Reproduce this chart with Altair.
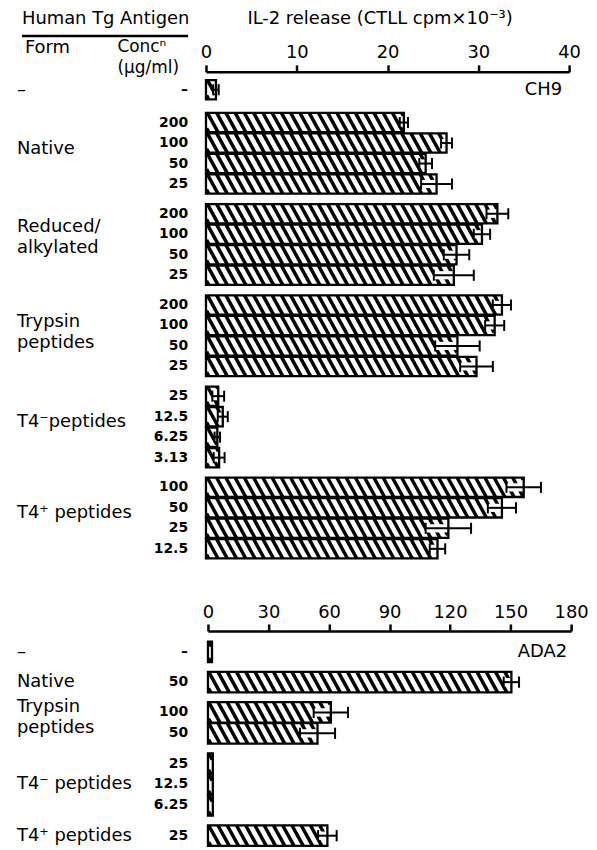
import altair as alt
import pandas as pd

# ---------------- data ----------------
# Panel 1: CH9, IL-2 release (CTLL cpm x 10^-3)
top_form_lines = [["–"], ["Native"], ["Reduced/", "alkylated"], ["Trypsin", "peptides"],
                  ["T4⁻peptides"], ["T4⁺  peptides"]]
top_concs = [["–"], ["200", "100", "50", "25"], ["200", "100", "50", "25"],
             ["200", "100", "50", "25"], ["25", "12.5", "6.25", "3.13"],
             ["100", "50", "25", "12.5"]]
top_values = [[1.1], [21.8, 26.5, 24.2, 25.4], [32.1, 30.4, 27.6, 27.3],
              [32.6, 31.8, 27.7, 29.8], [1.35, 1.85, 1.25, 1.45],
              [35.0, 32.6, 26.7, 25.5]]
top_errors = [[0.3], [0.45, 0.6, 0.7, 1.7], [1.2, 0.9, 1.4, 2.2],
              [1.0, 1.05, 2.45, 1.8], [0.65, 0.55, 0.3, 0.6],
              [1.9, 1.55, 2.5, 0.85]]
top_ticks = [0, 10, 20, 30, 40]

# Panel 2: ADA2
bot_form_lines = [["–"], ["Native"], ["Trypsin", "peptides"], ["T4⁻  peptides"], ["T4⁺  peptides"]]
bot_concs = [["–"], ["50"], ["100", "50"], ["25", "12.5", "6.25"], ["25"]]
bot_values = [[2.0], [150.4], [60.9, 54.3], [2.4, 2.4, 2.4], [59.2]]
bot_errors = [[0.0], [3.8], [8.5, 8.7], [0.0, 0.0, 0.0], [4.6]]
bot_ticks = [0, 30, 60, 90, 120, 150, 180]

# ---------------- layout / style ----------------
FONT = "DejaVu Sans"
W = 581

TOP = dict(name="CH9", name_x=557, ppr=20.6, first_gap=0.6, gap=0.45, hh=0.47,
           xrange=[199, 564], domain=[0, 40], ydom=[-0.874, 23.3],
           shift=[0, -0.19, -0.36, -0.15, -0.24, -0.24])
BOT = dict(name="ADA2", name_x=562, ppr=21.0, first_gap=0.45, gap=0.45, hh=0.49,
           xrange=[201, 566], domain=[0, 180], ydom=[-1.0, 9.333],
           shift=[0, 0, -0.26, 0, 0])

HATCH_PERIOD = 9.3   # px
HATCH_SLANT = 0.55   # horizontal shift / bar height
HATCH_WIDTH = 3.5


def panel(form_lines, concs, values, errors, ticks, L, header=False):
    ppu = (L["xrange"][1] - L["xrange"][0]) / (L["domain"][1] - L["domain"][0])
    ppr = L["ppr"]
    hh = L["hh"]
    H = round((L["ydom"][1] - L["ydom"][0]) * ppr)
    rows, hatch, forms = [], [], []
    pos = 0.0
    for g, (cs, vs, es) in enumerate(zip(concs, values, errors)):
        if g == 1:
            pos += L["first_gap"]
        elif g > 1:
            pos += L["gap"]
        gstart = pos
        for c, v, e in zip(cs, vs, es):
            top = pos - hh
            rows.append(dict(conc=c, value=v, err=e, pos=pos, zero=0.0,
                             top=top, bot=pos + hh, lo=v - e, hi=v + e,
                             ctop=pos - 0.27, cbot=pos + 0.27,
                             wtop=pos - 0.2, wbot=pos + 0.2))
            # hatch lines ("\\\\" direction), clipped to the bar
            Hpx = 2 * hh * ppr
            d = HATCH_SLANT * Hpx / ppu
            s = HATCH_PERIOD / ppu
            m = 0.6 / ppu
            a = -d + 0.3 * s
            while a < v:
                t0 = max(0.0, (m - a) / d)
                t1 = min(1.0, (v - m - a) / d)
                if t1 > t0:
                    hatch.append(dict(x=a + d * t0, x2=a + d * t1,
                                      y=top + 2 * hh * t0, y2=top + 2 * hh * t1))
                a += s
            pos += 1
        gend = pos - 1
        center = (gstart + gend) / 2 + L["shift"][g]
        lines = form_lines[g]
        n = len(lines)
        step = 21.0 / ppr
        for i, t in enumerate(lines):
            forms.append(dict(text=t, pos=center + (i - (n - 1) / 2) * step))

    df = pd.DataFrame(rows)
    hdf = pd.DataFrame(hatch)
    fdf = pd.DataFrame(forms)
    edf = df[df["err"] > 0]
    ndf = pd.DataFrame([dict(text=L["name"], pos=0.0)])

    xs = alt.Scale(domain=L["domain"], range=L["xrange"], nice=False, zero=False)
    ys = alt.Scale(domain=L["ydom"], range=[0, H], nice=False, zero=False)
    xax = alt.Axis(orient="top", values=ticks, title=None, grid=False,
                   domainColor="black", domainWidth=2.5, tickColor="black",
                   tickWidth=2.5, tickSize=7, labelFont=FONT, labelFontSize=18,
                   labelColor="black", labelPadding=3, labelFlush=False,
                   labelOverlap=False, format="d")

    def X(f):
        return alt.X(f, type="quantitative", scale=xs, axis=xax)

    def Y(f):
        return alt.Y(f, type="quantitative", scale=ys, axis=None)

    fill = alt.Chart(df).mark_rect(fill="white").encode(
        x=X("zero"), x2=alt.X2("value"), y=Y("top"), y2=alt.Y2("bot"))
    hat = alt.Chart(hdf).mark_rule(stroke="black", strokeWidth=HATCH_WIDTH).encode(
        x=X("x"), x2=alt.X2("x2"), y=Y("y"), y2=alt.Y2("y2"))
    wbox = alt.Chart(edf).mark_rect(fill="white").encode(
        x=X("lo"), x2=alt.X2("value"), y=Y("wtop"), y2=alt.Y2("wbot"))
    outline = alt.Chart(df).mark_rect(fillOpacity=0, stroke="black", strokeWidth=2.3).encode(
        x=X("zero"), x2=alt.X2("value"), y=Y("top"), y2=alt.Y2("bot"))
    eline = alt.Chart(edf).mark_rule(stroke="black", strokeWidth=2).encode(
        x=X("lo"), x2=alt.X2("hi"), y=Y("pos"))
    ecap_r = alt.Chart(edf).mark_rule(stroke="black", strokeWidth=2).encode(
        x=X("hi"), y=Y("ctop"), y2=alt.Y2("cbot"))
    ecap_l = alt.Chart(edf).mark_rule(stroke="black", strokeWidth=2).encode(
        x=X("lo"), y=Y("ctop"), y2=alt.Y2("cbot"))
    conc = alt.Chart(df).mark_text(align="right", baseline="middle", font=FONT,
                                   fontSize=14, fontWeight="bold", color="black").encode(
        x=alt.value(181), y=Y("pos"), text="conc:N")
    form = alt.Chart(fdf).mark_text(align="left", baseline="middle", font=FONT,
                                    fontSize=18, color="black").encode(
        x=alt.value(9), y=Y("pos"), text="text:N")
    name = alt.Chart(ndf).mark_text(align="right", baseline="middle", font=FONT,
                                    fontSize=18, color="black").encode(
        x=alt.value(L["name_x"]), y=Y("pos"), text="text:N")

    layers = [fill, hat, wbox, outline, eline, ecap_r, ecap_l, conc, form, name]

    if header:
        one = pd.DataFrame({"k": [0]})

        def txt(t, x, y, align="left", size=18):
            return alt.Chart(one).mark_text(text=t, align=align, baseline="middle",
                                            font=FONT, fontSize=size, color="black").encode(
                x=alt.value(x), y=alt.value(y))

        layers += [
            txt("Human  Tg  Antigen", 14, -53),
            txt("IL-2  release  (CTLL  cpm×10⁻³)", 374, -53, align="center"),
            alt.Chart(one).mark_rule(stroke="black", strokeWidth=2.5).encode(
                x=alt.value(14), x2=alt.value(181), y=alt.value(-36)),
            txt("Form", 17, -24),
            txt("Concⁿ", 110, -25, size=17),
            txt("(µg/ml)", 110, -4, size=17),
        ]

    return alt.layer(*layers).properties(width=W, height=H)


top = panel(top_form_lines, top_concs, top_values, top_errors, top_ticks, TOP, header=True)
bottom = panel(bot_form_lines, bot_concs, bot_values, bot_errors, bot_ticks, BOT)

chart = alt.vconcat(top, bottom, spacing=36).properties(padding=0).configure_view(strokeWidth=0)

chart.save("out.html", embed_options={"renderer": "svg", "actions": False})
